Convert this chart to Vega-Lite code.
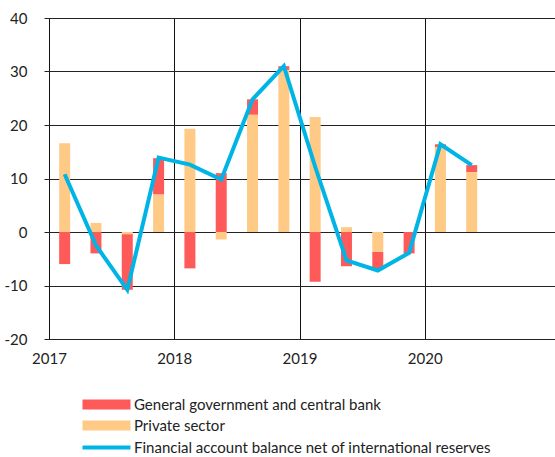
{
  "$schema": "https://vega.github.io/schema/vega-lite/v6.json",
  "width": 511,
  "height": 321,
  "autosize": {"type": "none"},
  "padding": {"left": 44, "top": 18, "right": 0, "bottom": 118},
  "background": "white",
  "config": {
    "font": "Lato",
    "view": {"stroke": null},
    "axis": {"labelFont": "Lato", "labelFontSize": 15, "labelColor": "#222"},
    "legend": {"labelFont": "Lato", "labelFontSize": 15, "labelColor": "#222"}
  },
  "data": {
    "values": [
      {"date": 2017.125, "series": "General government and central bank", "value": -6.0},
      {"date": 2017.125, "series": "Private sector", "value": 16.6},
      {"date": 2017.125, "series": "Financial account balance net of international reserves", "value": 10.8},
      {"date": 2017.375, "series": "General government and central bank", "value": -4.0},
      {"date": 2017.375, "series": "Private sector", "value": 1.7},
      {"date": 2017.375, "series": "Financial account balance net of international reserves", "value": -2.5},
      {"date": 2017.625, "series": "General government and central bank", "value": -10.4},
      {"date": 2017.625, "series": "Private sector", "value": -0.4},
      {"date": 2017.625, "series": "Financial account balance net of international reserves", "value": -10.8},
      {"date": 2017.875, "series": "General government and central bank", "value": 6.8},
      {"date": 2017.875, "series": "Private sector", "value": 7.0},
      {"date": 2017.875, "series": "Financial account balance net of international reserves", "value": 13.9},
      {"date": 2018.125, "series": "General government and central bank", "value": -6.8},
      {"date": 2018.125, "series": "Private sector", "value": 19.3},
      {"date": 2018.125, "series": "Financial account balance net of international reserves", "value": 12.6},
      {"date": 2018.375, "series": "General government and central bank", "value": 11.0},
      {"date": 2018.375, "series": "Private sector", "value": -1.4},
      {"date": 2018.375, "series": "Financial account balance net of international reserves", "value": 9.8},
      {"date": 2018.625, "series": "General government and central bank", "value": 2.9},
      {"date": 2018.625, "series": "Private sector", "value": 21.9},
      {"date": 2018.625, "series": "Financial account balance net of international reserves", "value": 24.8},
      {"date": 2018.875, "series": "General government and central bank", "value": 0.7},
      {"date": 2018.875, "series": "Private sector", "value": 30.3},
      {"date": 2018.875, "series": "Financial account balance net of international reserves", "value": 31.0},
      {"date": 2019.125, "series": "General government and central bank", "value": -9.3},
      {"date": 2019.125, "series": "Private sector", "value": 21.5},
      {"date": 2019.125, "series": "Financial account balance net of international reserves", "value": 12.2},
      {"date": 2019.375, "series": "General government and central bank", "value": -6.4},
      {"date": 2019.375, "series": "Private sector", "value": 0.9},
      {"date": 2019.375, "series": "Financial account balance net of international reserves", "value": -5.3},
      {"date": 2019.625, "series": "General government and central bank", "value": -3.3},
      {"date": 2019.625, "series": "Private sector", "value": -3.7},
      {"date": 2019.625, "series": "Financial account balance net of international reserves", "value": -7.2},
      {"date": 2019.875, "series": "General government and central bank", "value": -4.0},
      {"date": 2019.875, "series": "Private sector", "value": 0.0},
      {"date": 2019.875, "series": "Financial account balance net of international reserves", "value": -3.9},
      {"date": 2020.125, "series": "General government and central bank", "value": 0.5},
      {"date": 2020.125, "series": "Private sector", "value": 15.9},
      {"date": 2020.125, "series": "Financial account balance net of international reserves", "value": 16.4},
      {"date": 2020.375, "series": "General government and central bank", "value": 1.3},
      {"date": 2020.375, "series": "Private sector", "value": 11.2},
      {"date": 2020.375, "series": "Financial account balance net of international reserves", "value": 12.5}
    ]
  },
  "encoding": {
    "x": {
      "field": "date",
      "type": "quantitative",
      "scale": {"domain": [2017, 2021], "nice": false, "zero": false},
      "axis": {
        "title": null,
        "values": [2017, 2018, 2019, 2020],
        "format": "d",
        "grid": true,
        "gridColor": "#111",
        "gridWidth": 1,
        "gridOpacity": 1,
        "domain": false,
        "ticks": false,
        "labelPadding": 12,
        "labelFlush": false,
        "labelOverlap": false
      }
    },
    "y": {
      "field": "value",
      "type": "quantitative",
      "scale": {"domain": [-20, 40], "nice": false},
      "axis": {
        "title": null,
        "values": [-20, -10, 0, 10, 20, 30, 40],
        "labelExpr": "'' + datum.value",
        "grid": true,
        "gridColor": "#222",
        "gridWidth": 1,
        "gridOpacity": 1,
        "domain": false,
        "ticks": false,
        "labelPadding": 17
      }
    },
    "color": {
      "field": "series",
      "type": "nominal",
      "scale": {
        "domain": ["General government and central bank", "Private sector", "Financial account balance net of international reserves"],
        "range": ["#FF5A5A", "#FFCA85", "#00B5E6"]
      },
      "legend": {
        "title": null,
        "orient": "none",
        "legendX": 36,
        "legendY": 379,
        "direction": "vertical",
        "padding": 0,
        "symbolSize": 100,
        "symbolOffset": 19,
        "labelOffset": 20,
        "rowPadding": 5,
        "labelLimit": 600,
        "encode": {
          "symbols": {
            "update": {
              "shape": {"signal": "datum.value === 'Financial account balance net of international reserves' ? 'M-4.8,0H4.8' : 'M-4.8,-1H4.8V1H-4.8Z'"},
              "strokeWidth": {"signal": "datum.value === 'Financial account balance net of international reserves' ? 4 : 0"},
              "fill": {"scale": "color", "field": "value"},
              "stroke": {"scale": "color", "field": "value"},
              "opacity": {"value": 1}
            }
          }
        }
      }
    }
  },
  "layer": [
    {
      "transform": [{"filter": "datum.series !== 'Financial account balance net of international reserves'"}],
      "mark": {"type": "bar", "width": 11},
      "encoding": {
        "order": {"field": "series", "sort": "descending"}
      }
    },
    {
      "transform": [{"filter": "datum.series === 'Financial account balance net of international reserves'"}],
      "mark": {"type": "line", "strokeWidth": 4}
    }
  ]
}
